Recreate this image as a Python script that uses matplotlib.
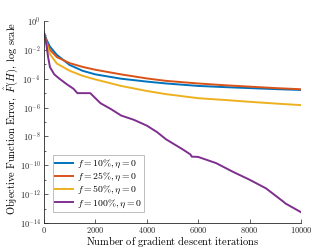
import matplotlib
matplotlib.use("Agg")
import matplotlib.pyplot as plt
import matplotlib.ticker as mticker
import numpy as np

plt.rcParams['mathtext.fontset'] = 'cm'

# ---- data (log10 of objective error) ----
x_blue = [0, 100, 233, 500, 1000, 1500, 2000, 3000, 4000, 4750, 6000, 7000, 8000, 9000, 10000]
y_blue = [-0.85, -1.3, -1.78, -2.35, -3.05, -3.45, -3.7, -4.0, -4.2, -4.33, -4.5, -4.58, -4.65, -4.72, -4.78]

x_orange = [0, 100, 233, 500, 1000, 1500, 2000, 3000, 4000, 4750, 6000, 7000, 8000, 9000, 10000]
y_orange = [-0.85, -1.45, -2.0, -2.5, -2.92, -3.18, -3.38, -3.7, -3.98, -4.15, -4.33, -4.45, -4.55, -4.65, -4.73]

x_yellow = [0, 100, 233, 500, 1000, 1500, 2000, 3000, 4000, 4750, 6000, 7000, 8000, 9000, 10000]
y_yellow = [-0.85, -1.6, -2.3, -2.95, -3.45, -3.8, -4.05, -4.5, -4.85, -5.07, -5.35, -5.47, -5.6, -5.72, -5.83]

x_purple = [0, 50, 100, 160, 233, 400, 600, 900, 1150, 1300, 1800, 2200, 2600, 3000, 3500, 4000,
            4400, 4750, 5400, 5700, 5750, 6000, 6700, 7350, 8000, 8640, 9300, 9400, 10000]
y_purple = [-0.77, -1.2, -1.7, -2.5, -3.2, -3.7, -4.0, -4.4, -4.7, -5.0, -5.0, -5.7, -6.1, -6.55, -6.85, -7.25,
            -7.7, -8.2, -8.9, -9.25, -9.4, -9.42, -9.85, -10.45, -11.0, -11.6, -12.5, -12.65, -13.25]

labels = [r'$f = 10\%, \eta = 0$', r'$f = 25\%, \eta = 0$',
          r'$f = 50\%, \eta = 0$', r'$f = 100\%, \eta = 0$']
colors = ['#0072BD', '#D95319', '#EDB120', '#7E2F8E']

xticks = [0, 2000, 4000, 6000, 8000, 10000]
yticks_exp = [0, -2, -4, -6, -8, -10, -12, -14]

fig = plt.figure(figsize=(3.32, 2.49), dpi=100)
ax = fig.add_axes([0.1325, 0.1044, 0.774, 0.8113])

series = [(x_blue, y_blue), (x_orange, y_orange), (x_yellow, y_yellow), (x_purple, y_purple)]
for (xs, ys), c, lab in zip(series, colors, labels):
    ax.semilogy(xs, 10.0 ** np.array(ys), color=c, lw=1.4, label=lab)

ax.set_xlim(0, 10000)
ax.set_ylim(1e-14, 1e0)
ax.set_xticks(xticks)
ax.set_yticks([10.0 ** e for e in yticks_exp])
ax.yaxis.set_minor_locator(mticker.FixedLocator([10.0 ** e for e in range(-14, 1)]))
ax.yaxis.set_minor_formatter(mticker.NullFormatter())
ax.yaxis.set_major_formatter(mticker.FuncFormatter(
    lambda v, p: r'$\mathsf{10^{%d}}$' % int(round(np.log10(v)))))
ax.xaxis.set_major_formatter(mticker.FuncFormatter(lambda v, p: r'$\mathsf{%d}$' % int(v)))

axcol = '#262626'
for s in ['top', 'right']:
    ax.spines[s].set_visible(False)
for s in ['left', 'bottom']:
    ax.spines[s].set_color(axcol)
    ax.spines[s].set_linewidth(0.6)
ax.tick_params(which='both', direction='in', colors=axcol, labelsize=6, width=0.5)
ax.tick_params(which='major', length=3)
ax.tick_params(which='minor', length=1.5)
ax.tick_params(axis='x', pad=1.5)
ax.tick_params(axis='y', pad=2.5)

ax.set_xlabel(r'$\mathrm{Number\ of\ gradient\ descent\ iterations}$', fontsize=7.5, va='baseline')
ax.xaxis.set_label_coords(0.5, -0.11)
ax.set_ylabel(r'$\mathrm{Objective\ Function\ Error,\ }\hat{F}(H)\mathrm{,\ log\ scale}$', fontsize=7.5, va='center')
ax.yaxis.set_label_coords(-0.128, 0.52)

leg = ax.legend(loc='lower left', bbox_to_anchor=(0.034, 0.054), fontsize=7, frameon=True,
                fancybox=False, edgecolor='#a0a0a0', handlelength=1.8, handletextpad=0.4,
                borderpad=0.25, labelspacing=0.1, borderaxespad=0)
leg.get_frame().set_linewidth(0.6)

fig.savefig('out.png', dpi=100)
